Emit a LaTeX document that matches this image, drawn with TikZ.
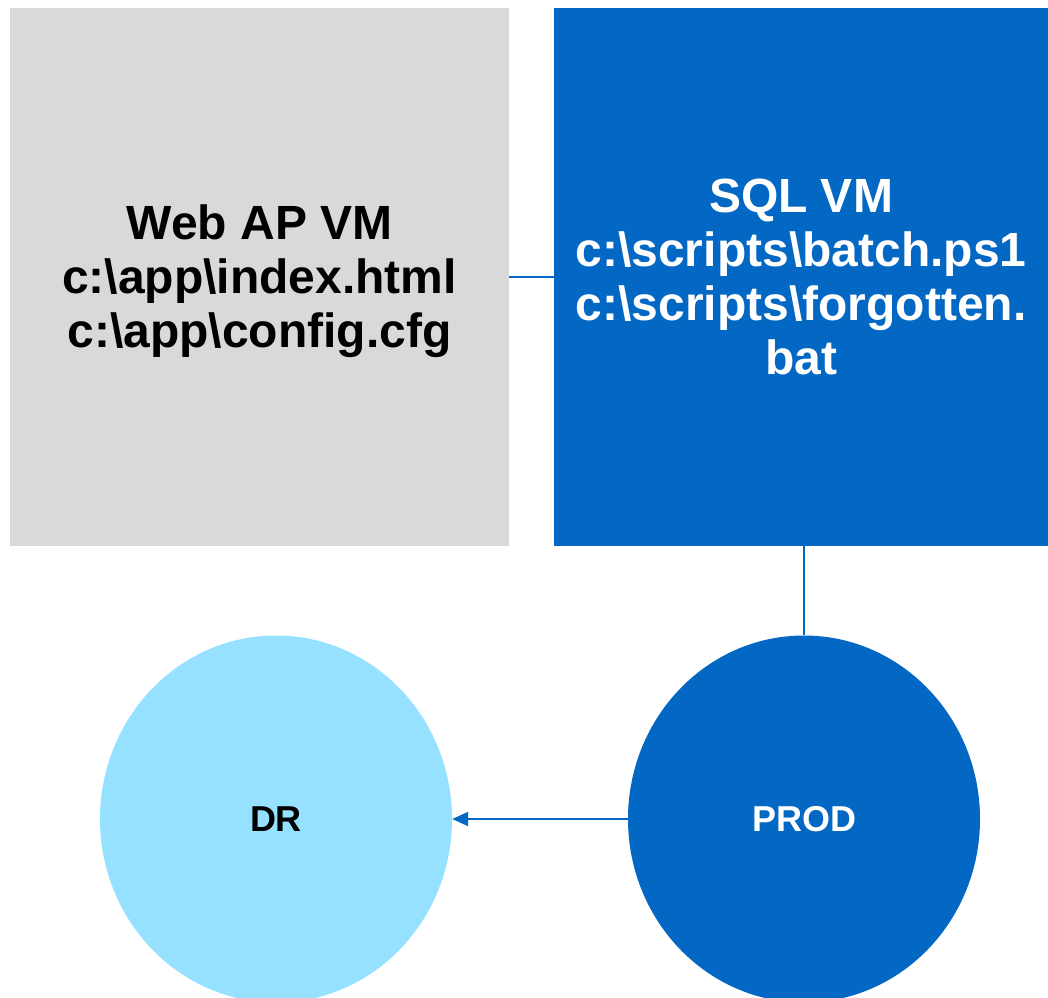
\documentclass[tikz,border=0pt]{standalone}
\usepackage{fontspec}
\setmainfont{Liberation Sans}
\usetikzlibrary{shapes.geometric,arrows.meta}
\definecolor{boxgray}{RGB}{217,217,217}
\definecolor{vmblue}{RGB}{3,103,196}
\definecolor{drblue}{RGB}{149,225,255}
\newcommand\ppstrut{\rule[-0.212em]{0pt}{1.117em}}
\tikzset{
  vmbox/.style={rectangle, inner sep=0pt, minimum width=#1, minimum height=538pt, align=center,
    font=\bfseries\fontsize{48}{54}\selectfont},
  site/.style={ellipse, inner sep=0pt, minimum width=352pt, minimum height=367pt,
    font=\bfseries\fontsize{36}{40}\selectfont},
  conn/.style={draw=vmblue, line width=2pt},
  arr/.style={conn, -{Triangle[length=16pt,width=14pt]}}
}
\begin{document}
\begin{tikzpicture}[x=1pt,y=-1pt]
\clip (0,0) rectangle (1048,997);
\fill[white] (0,0) rectangle (1048,997);
\node[vmbox=499pt, fill=boxgray, text=black] (web) at (259.5,277)
  {\ppstrut Web AP VM\\c:\textbackslash app\textbackslash index.html\\c:\textbackslash app\textbackslash config.cfg\ppstrut};
\node[vmbox=494pt, fill=vmblue, text=white] (sql) at (801,277)
  {\ppstrut SQL VM\\c:\textbackslash scripts\textbackslash batch.ps1\\c:\textbackslash scripts\textbackslash forgotten.\\bat\ppstrut};
\node[site, fill=drblue, text=black] (dr) at (276,819) {DR};
\node[site, fill=vmblue, text=white] (prod) at (804,819) {PROD};
\draw[conn] (web) -- (sql);
\draw[conn] (sql.south -| prod.north) -- (prod.north);
\draw[arr] (prod.west) -- (dr.east |- prod.west);
\end{tikzpicture}
\end{document}
